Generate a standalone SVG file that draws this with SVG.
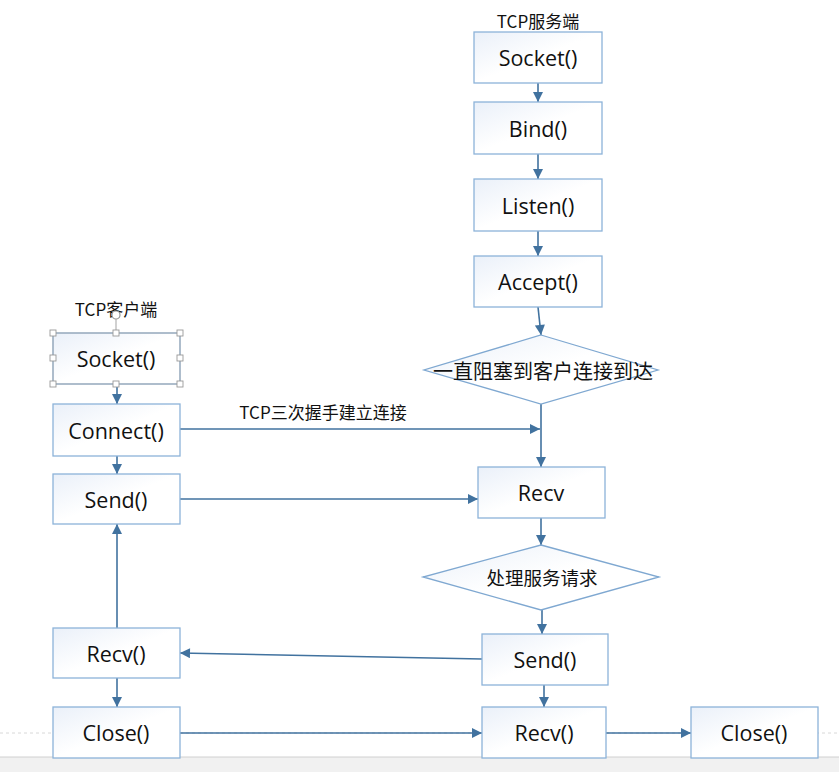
<svg xmlns="http://www.w3.org/2000/svg" width="839" height="772" viewBox="0 0 839 772">
<style>
.box{fill:url(#g);stroke:#8db3d9;stroke-width:1.3}
.dia{fill:url(#g);stroke:#7fa8d1;stroke-width:1.3}
.t{font-family:"Open Sans","Liberation Sans","Noto Sans CJK SC",sans-serif;font-size:21.5px;fill:#111;text-anchor:middle;dominant-baseline:central}
.c{font-family:"Noto Sans CJK SC","Liberation Sans",sans-serif;fill:#111;text-anchor:middle;dominant-baseline:central}
.e{fill:none;stroke:#41729f;stroke-width:1.6;marker-end:url(#a)}
.h{fill:#fff;stroke:#999;stroke-width:0.9}
</style>
<defs>
<linearGradient id="g" x1="0" y1="0" x2="1" y2="1">
<stop offset="0" stop-color="#eaf0f9"/>
<stop offset="0.5" stop-color="#ffffff"/>
<stop offset="1" stop-color="#ffffff"/>
</linearGradient>
<marker id="a" viewBox="0 0 10 10" refX="10" refY="5" markerWidth="11" markerHeight="10" markerUnits="userSpaceOnUse" orient="auto">
<path d="M0,0 L10,5 L0,10 z" fill="#41729f"/>
</marker>
</defs>
<rect width="839" height="772" fill="#fff"/>
<line x1="0" y1="733" x2="839" y2="733" stroke="#d8d8d8" stroke-width="1" stroke-dasharray="3,3"/>
<rect x="0" y="757" width="839" height="15" fill="#f1f1f1"/>
<line x1="0" y1="757" x2="839" y2="757" stroke="#d0d0d0" stroke-width="1"/>

<text class="c" x="538" y="20" font-size="17">TCP服务端</text>
<text class="c" x="116" y="308" font-size="17">TCP客户端</text>
<text class="c" x="323" y="411" font-size="17">TCP三次握手建立连接</text>

<g id="connectors">
<line class="e" x1="538" y1="83" x2="538" y2="102"/>
<line class="e" x1="538" y1="154" x2="538" y2="179"/>
<line class="e" x1="538" y1="231" x2="538" y2="256"/>
<line class="e" x1="538" y1="307" x2="541" y2="335"/>
<line class="e" x1="541" y1="404" x2="541" y2="467"/>
<line class="e" x1="180" y1="429" x2="540" y2="429"/>
<line class="e" x1="180" y1="499" x2="478" y2="499"/>
<line class="e" x1="541" y1="518" x2="541" y2="545"/>
<line class="e" x1="542" y1="610" x2="542" y2="634"/>
<line class="e" x1="544" y1="685" x2="544" y2="707"/>
<line class="e" x1="482" y1="659" x2="180" y2="653"/>
<line class="e" x1="117" y1="628" x2="117" y2="524"/>
<line class="e" x1="117" y1="384" x2="117" y2="404"/>
<line class="e" x1="117" y1="456" x2="117" y2="474"/>
<line class="e" x1="117" y1="678" x2="117" y2="707"/>
<line class="e" x1="180" y1="733" x2="482" y2="733"/>
<line class="e" x1="606" y1="733" x2="691" y2="733"/>
</g>

<g id="s-socket"><rect class="box" x="474" y="32" width="128" height="51"/><text class="t" x="538" y="57">Socket()</text></g>
<g id="s-bind"><rect class="box" x="474" y="102" width="128" height="52"/><text class="t" x="538" y="128">Bind()</text></g>
<g id="s-listen"><rect class="box" x="474" y="179" width="128" height="52"/><text class="t" x="538" y="205">Listen()</text></g>
<g id="s-accept"><rect class="box" x="474" y="256" width="128" height="51"/><text class="t" x="538" y="281">Accept()</text></g>
<g id="s-wait"><polygon class="dia" points="541,335 658,370 541,404 424,370"/><text class="c" x="543" y="370" font-size="20">一直阻塞到客户连接到达</text></g>
<g id="s-recv"><rect class="box" x="478" y="467" width="127" height="51"/><text class="t" x="541" y="492">Recv</text></g>
<g id="s-proc"><polygon class="dia" points="541,545 659,577 541,610 423,577"/><text class="c" x="542" y="577" font-size="18.5">处理服务请求</text></g>
<g id="s-send"><rect class="box" x="482" y="634" width="126" height="51"/><text class="t" x="545" y="659">Send()</text></g>
<g id="s-recv2"><rect class="box" x="482" y="707" width="124" height="51"/><text class="t" x="544" y="732">Recv()</text></g>
<g id="s-close"><rect class="box" x="691" y="707" width="127" height="51"/><text class="t" x="754" y="732">Close()</text></g>

<g id="c-socket"><rect class="box" x="53" y="333" width="127" height="51"/><text class="t" x="116" y="358">Socket()</text>
<rect x="53" y="333" width="127" height="51" fill="none" stroke="#a6a6a6" stroke-width="0.8"/>
<line x1="116" y1="319" x2="116" y2="330" stroke="#999" stroke-width="0.9"/>
<circle cx="116" cy="315" r="4" fill="#fff" stroke="#999" stroke-width="1.2"/>
<rect class="h" x="50" y="330" width="6" height="6"/><rect class="h" x="113" y="330" width="6" height="6"/><rect class="h" x="177" y="330" width="6" height="6"/>
<rect class="h" x="50" y="355" width="6" height="6"/><rect class="h" x="177" y="355" width="6" height="6"/>
<rect class="h" x="50" y="381" width="6" height="6"/><rect class="h" x="113" y="381" width="6" height="6"/><rect class="h" x="177" y="381" width="6" height="6"/>
</g>
<g id="c-connect"><rect class="box" x="53" y="404" width="127" height="52"/><text class="t" x="116" y="430">Connect()</text></g>
<g id="c-send"><rect class="box" x="53" y="474" width="127" height="50"/><text class="t" x="116" y="499">Send()</text></g>
<g id="c-recv"><rect class="box" x="53" y="628" width="127" height="50"/><text class="t" x="116" y="653">Recv()</text></g>
<g id="c-close"><rect class="box" x="53" y="707" width="127" height="51"/><text class="t" x="116" y="732">Close()</text></g>
</svg>
